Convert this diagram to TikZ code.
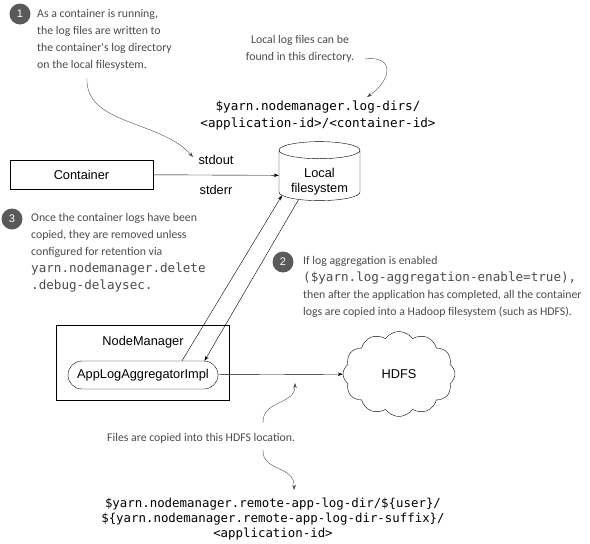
\documentclass[tikz,border=0pt]{standalone}
\usepackage{fontspec}
\setmainfont{Liberation Sans}
\setmonofont{DejaVu Sans Mono}
\newfontfamily\notefont{Carlito}
\usetikzlibrary{shapes.geometric,shapes.symbols,arrows.meta}
\definecolor{notegray}{RGB}{75,75,75}
\definecolor{markgray}{RGB}{90,90,90}
\begin{document}
\begin{tikzpicture}
[x=1pt,y=-1pt,
  boxdecorate/.style={shape=rectangle,draw,inner sep=0pt,font=\fontsize{12.8}{15}\selectfont},%
  roundboxdecorate/.style={boxdecorate,rounded corners=14pt},%
  diskdecorate/.style={shape=cylinder,shape border rotate=90,draw,aspect=0.3,inner sep=0pt,
    font=\fontsize{12.8}{15}\selectfont},%
  clouddecorate/.style={shape=cloud,draw,cloud puffs=12,cloud puff arc=110,cloud ignores aspect,
    inner sep=0pt,font=\fontsize{12.8}{15}\selectfont},%
  markdecorate/.style={shape=circle,fill=markgray,text=white,minimum size=21pt,inner sep=0pt,
    font=\fontsize{11}{12}\selectfont},%
  notedecorate/.style={inner sep=0pt,align=left,text=notegray,
    font=\notefont\fontsize{11.8}{17}\selectfont},%
  pathdecorate/.style={inner sep=0pt,align=center,font=\ttfamily\fontsize{12.6}{17}\selectfont},%
  linedecorate/.style={-{Stealth[length=5pt,width=3.5pt]},thin},%
  curvedecorate/.style={-{Stealth[length=5pt,width=3.5pt]},thin,notegray}]
\useasboundingbox (0,0) rectangle (590,544);
%%% boxes, disk and cloud
% nodes or vertices
\node (container) at (81.5,174.5) [boxdecorate,minimum width=143pt,minimum height=29pt] {Container};
\node (fs) at (319.5,175.5) [diskdecorate,minimum width=81pt,minimum height=59pt] {\phantom{filesystem}};
\node (fslabel) at (319.5,182) [align=center,font=\fontsize{12.8}{15}\selectfont] {Local\\filesystem};
\node (nm) at (142.5,362.5) [boxdecorate,minimum width=173pt,minimum height=75pt] {};
\node (nmlabel) at (143,342) [font=\fontsize{12.8}{15}\selectfont] {NodeManager};
\node (applog) at (143,375) [roundboxdecorate,minimum width=150pt,minimum height=28pt] {AppLogAggregatorImpl};
\node (hdfs) at (399,374) [clouddecorate,minimum width=112pt,minimum height=85pt] {HDFS};
% edges or lines
\path
(container) edge[linedecorate] node[above=7pt,font=\fontsize{12.8}{15}\selectfont] {stdout}
  node[below=7pt,font=\fontsize{12.8}{15}\selectfont] {stderr} (fs)
(applog.20.7) edge[linedecorate] (fs.208.5)
(fs.229.8) edge[linedecorate] (applog.13.6)
(applog) edge[linedecorate] (hdfs);
%
%%% numbered notes and paths
% nodes or vertices
\node (m1) at (20,14) [markdecorate] {1};
\node (m2) at (283,262) [markdecorate] {2};
\node (m3) at (12,219) [markdecorate] {3};
\node (note1) at (37,9) [notedecorate,anchor=north west]
  {As a container is running,\\the log files are written to\\the container's log directory\\on the local filesystem.};
\node (note2) at (303,256) [notedecorate,anchor=north west]
  {If log aggregation is enabled\\{\ttfamily\fontsize{12.6}{17}\selectfont (\$yarn.log-aggregation-enable=true),}\\then after the application has completed, all the container\\logs are copied into a Hadoop filesystem (such as HDFS).};
\node (note3) at (31,213) [notedecorate,anchor=north west]
  {Once the container logs have been\\copied, they are removed unless\\configured for retention via\\{\ttfamily\fontsize{12.6}{17}\selectfont yarn.nodemanager.delete}\\{\ttfamily\fontsize{12.6}{17}\selectfont .debug-delaysec.}};
\node (notelocal) at (300,35) [notedecorate,align=center,anchor=north]
  {Local log files can be\\found in this directory.};
\node (notehdfs) at (107,441) [notedecorate,anchor=base west] {Files are copied into this HDFS location.};
\node (localdir) at (318,101) [pathdecorate,anchor=north]
  {\$yarn.nodemanager.log-dirs/\\<application-id>/<container-id>};
\node (remotedir) at (273,498) [pathdecorate,anchor=north,font=\ttfamily\fontsize{12.4}{15}\selectfont]
  {\$yarn.nodemanager.remote-app-log-dir/\$\{user\}/\\\$\{yarn.nodemanager.remote-app-log-dir-suffix\}/\\<application-id>};
\coordinate (t1a) at (87,78);
\coordinate (t1b) at (193,157);
\coordinate (tla) at (365,59);
\coordinate (tlb) at (367,97);
\coordinate (tha) at (263,423);
\coordinate (thb) at (295,383);
\coordinate (tda) at (263,450);
\coordinate (tdb) at (294,490);
% edges or lines
\draw[curvedecorate] (t1a) .. controls (85,125) and (160,120) .. (t1b);
\draw[curvedecorate] (tla) .. controls (395,55) and (392,80) .. (tlb);
\draw[curvedecorate] (tha) .. controls (262,400) and (295,405) .. (thb);
\draw[curvedecorate] (tda) .. controls (262,472) and (295,465) .. (tdb);
\end{tikzpicture}
\end{document}
